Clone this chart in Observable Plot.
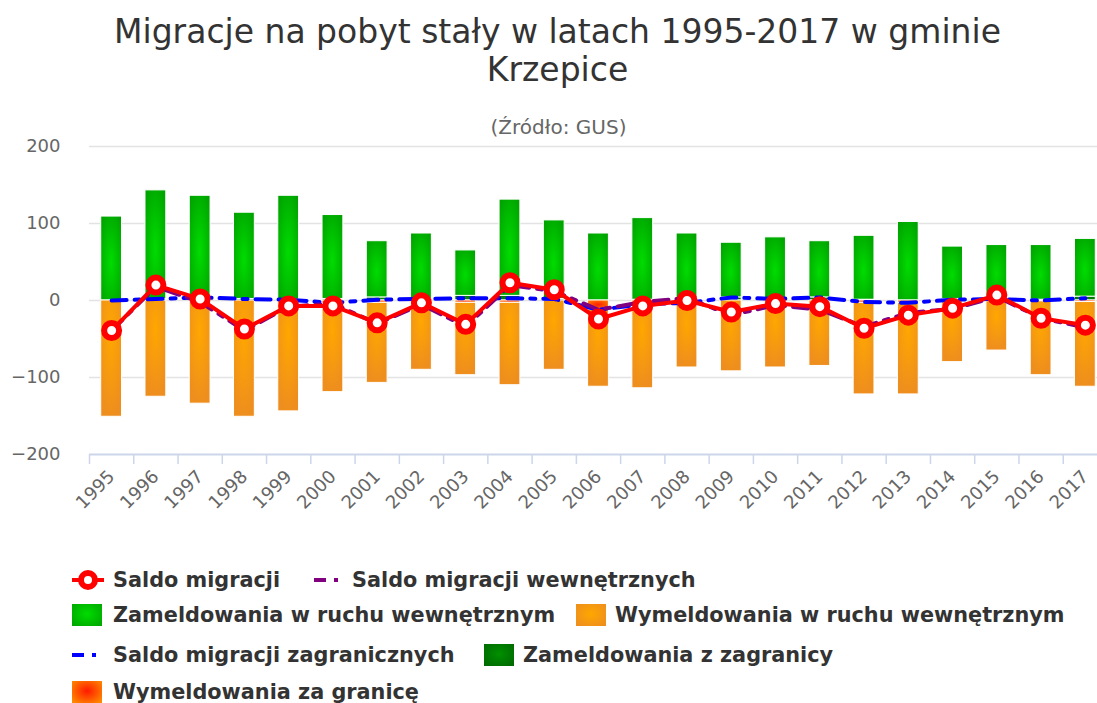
<!DOCTYPE html>
<html lang="pl">
<head>
<meta charset="utf-8">
<script src="https://cdn.jsdelivr.net/npm/d3@7"></script>
<script src="https://cdn.jsdelivr.net/npm/@observablehq/plot@0.6"></script>
<style>
  html, body { margin: 0; padding: 0; background: #fff; width: 1097px; height: 703px; overflow: hidden; }
  body { position: relative; font-family: "DejaVu Sans", sans-serif; }
  #title { position: absolute; left: 18px; top: 13px; width: 1079px; text-align: center; font-size: 33px; line-height: 38px; color: #333; z-index: 2; }
  #subtitle { position: absolute; left: 20px; top: 115px; width: 1077px; text-align: center; font-size: 20px; color: #666; z-index: 2; }
  #chart { position: absolute; left: 0; top: 130px; z-index: 1; }
  .lg { position: absolute; font-size: 20.8px; font-weight: bold; color: #333; white-space: nowrap; line-height: 24px; }
  .sw { position: absolute; width: 30px; height: 22px; }
  .ic { position: absolute; }
</style>
</head>
<body>
<div id="title">Migracje na pobyt stały w latach 1995-2017 w gminie<br>Krzepice</div>
<div id="subtitle">(Źródło: GUS)</div>
<div id="chart"></div>
<div id="legend"></div>
<script>
// ---- data ----
const years = ["1995","1996","1997","1998","1999","2000","2001","2002","2003","2004","2005","2006","2007","2008","2009","2010","2011","2012","2013","2014","2015","2016","2017"];
const zamWewn = [109,141,132,112,135,109,73,85,59,125,102,87,106,85,71,80,73,83,102,68,69,71,75];
const wymWewn = [151,125,134,151,144,114,104,90,94,107,90,100,108,82,92,87,85,119,119,79,64,96,110];
const zamZagr = [0,2,4,2,1,2,4,2,6,6,2,0,1,2,4,2,4,1,0,2,3,1,5];
const wymZagr = [0,0,0,0,0,5,3,0,3,3,0,12,6,5,0,0,0,3,3,1,1,1,2];
const saldo = [-39,20,2,-37,-7,-7,-29,-3,-31,23,14,-24,-7,0,-15,-4,-8,-36,-19,-10,7,-23,-32];
const saldoWewn = [-39,18,-2,-39,-8,-4,-30,-5,-34,20,12,-12,-2,3,-19,-6,-12,-34,-16,-11,5,-23,-35];
const saldoZagr = [0,2,4,2,1,-3,1,2,3,3,2,-12,-5,-3,4,2,4,-2,-3,1,2,0,3];
const yTicks = [-200,-100,0,100,200];

const N = {
  saldo: "Saldo migracji",
  saldoWewn: "Saldo migracji wewnętrznych",
  zamWewn: "Zameldowania w ruchu wewnętrznym",
  wymWewn: "Wymeldowania w ruchu wewnętrznym",
  saldoZagr: "Saldo migracji zagranicznych",
  zamZagr: "Zameldowania z zagranicy",
  wymZagr: "Wymeldowania za granicę"
};

// long table for the stacked bars
const rows = [];
years.forEach((y, i) => {
  rows.push({year: y, series: N.zamZagr, value: zamZagr[i]});
  rows.push({year: y, series: N.zamWewn, value: zamWewn[i]});
  rows.push({year: y, series: N.wymZagr, value: -wymZagr[i]});
  rows.push({year: y, series: N.wymWewn, value: -wymWewn[i]});
});
const stackOrder = [N.zamZagr, N.zamWewn, N.wymZagr, N.wymWewn];
const fills = ["url(#gDkGreen)", "url(#gGreen)", "url(#gRed)", "url(#gOrange)"];

const W = 1097, H = 410, ML = 89, MR = -10, MT = 16, MB = 86;
const band = (W - ML - MR) / years.length;

function defs() {
  const d = d3.create("svg:defs");
  const grad = (id, cy, c0, c1) => {
    const g = d.append("radialGradient").attr("id", id).attr("cx", 0.5).attr("cy", cy).attr("r", 0.7);
    g.append("stop").attr("offset", 0).attr("stop-color", c0);
    g.append("stop").attr("offset", 1).attr("stop-color", c1);
  };
  grad("gGreen", 0.55, "#00dc00", "#00a000");
  grad("gOrange", 0.3, "#ffa700", "#ee8e1e");
  grad("gDkGreen", 0.5, "#009000", "#006a00");
  grad("gRed", 0.5, "#ff2000", "#ff8a00");
  return d.node();
}

const dash = "15,8,5,8";
const chart = Plot.plot({
  width: W, height: H,
  marginLeft: ML, marginRight: MR, marginTop: MT, marginBottom: MB,
  style: {fontFamily: "DejaVu Sans, sans-serif", fontSize: "18px", color: "#666", background: "transparent"},
  x: {type: "band", domain: years, paddingInner: 0.53, paddingOuter: 0.265, round: false, label: null},
  y: {domain: [-200, 200], label: null},
  color: {type: "ordinal", domain: stackOrder, range: fills},
  marks: [
    defs,
    Plot.gridY([-100, 0, 100, 200], {stroke: "#e3e3e3", strokeOpacity: 1, strokeWidth: 1.5}),
    Plot.ruleY([-200], {stroke: "#ccd6eb", strokeWidth: 2}),
    Plot.ruleX(years, {x: d => d, dx: -band / 2, y1: -200, y2: -213, stroke: "#ccd6eb", strokeWidth: 1.5}),
    Plot.axisY(yTicks, {tickSize: 0, tickPadding: 29, fontSize: 18, fill: "#666"}),
    Plot.axisX({tickSize: 0, tickRotate: -45, tickPadding: 19, fontSize: 18, fill: "#666"}),
    Plot.barY(rows, Plot.stackY({x: "year", y: "value", z: "series", order: stackOrder, fill: "series", stroke: "white", strokeWidth: 1})),
    Plot.line(saldoZagr, {x: (d, i) => years[i], y: d => d, stroke: "#0000ff", strokeWidth: 4, strokeDasharray: dash}),
    Plot.line(saldoWewn, {x: (d, i) => years[i], y: d => d, stroke: "#800080", strokeWidth: 4, strokeDasharray: dash}),
    Plot.line(saldo, {x: (d, i) => years[i], y: d => d, stroke: "#ff0000", strokeWidth: 4}),
    Plot.dot(saldo, {x: (d, i) => years[i], y: d => d, r: 7.5, fill: "white", stroke: "#ff0000", strokeWidth: 6})
  ]
});
document.getElementById("chart").appendChild(chart);

// ---- legend (HTML) ----
const lg = document.getElementById("legend");
function text(s, x, yc) {
  const e = document.createElement("div");
  e.className = "lg"; e.textContent = s;
  e.style.left = x + "px"; e.style.top = (yc - 12) + "px";
  lg.appendChild(e);
}
function swatch(x, yc, c0, c1) {
  const e = document.createElement("div");
  e.className = "sw";
  e.style.left = x + "px"; e.style.top = (yc - 11) + "px";
  e.style.background = `radial-gradient(ellipse at 50% 45%, ${c0} 0%, ${c1} 90%)`;
  lg.appendChild(e);
}
function lineIcon(x, yc, color, dashed, marker) {
  const ns = "http://www.w3.org/2000/svg";
  const s = document.createElementNS(ns, "svg");
  s.setAttribute("class", "ic");
  s.setAttribute("width", 34); s.setAttribute("height", 24);
  s.style.left = x + "px"; s.style.top = (yc - 12) + "px";
  const l = document.createElementNS(ns, "path");
  l.setAttribute("d", "M0,12H32");
  l.setAttribute("stroke", color); l.setAttribute("stroke-width", 4); l.setAttribute("fill", "none");
  if (dashed) l.setAttribute("stroke-dasharray", "12,8,4,8");
  s.appendChild(l);
  if (marker) {
    const c = document.createElementNS(ns, "circle");
    c.setAttribute("cx", 16); c.setAttribute("cy", 12); c.setAttribute("r", 7);
    c.setAttribute("fill", "white"); c.setAttribute("stroke", color); c.setAttribute("stroke-width", 6);
    s.appendChild(c);
  }
  lg.appendChild(s);
}
const r1 = 580, r2 = 615, r3 = 655, r4 = 692;
lineIcon(72, r1, "#ff0000", false, true); text(N.saldo, 113, r1);
lineIcon(314, r1, "#800080", true, false); text(N.saldoWewn, 352, r1);
swatch(72, r2, "#00dc00", "#00a800"); text(N.zamWewn, 113, r2);
swatch(576, r2, "#ffa700", "#ee8e1e"); text(N.wymWewn, 615, r2);
lineIcon(72, r3, "#0000ff", true, false); text(N.saldoZagr, 113, r3);
swatch(484, r3, "#009000", "#006a00"); text(N.zamZagr, 523, r3);
swatch(72, r4, "#ff1a00", "#ff8a00"); text(N.wymZagr, 113, r4);
</script>
</body>
</html>
